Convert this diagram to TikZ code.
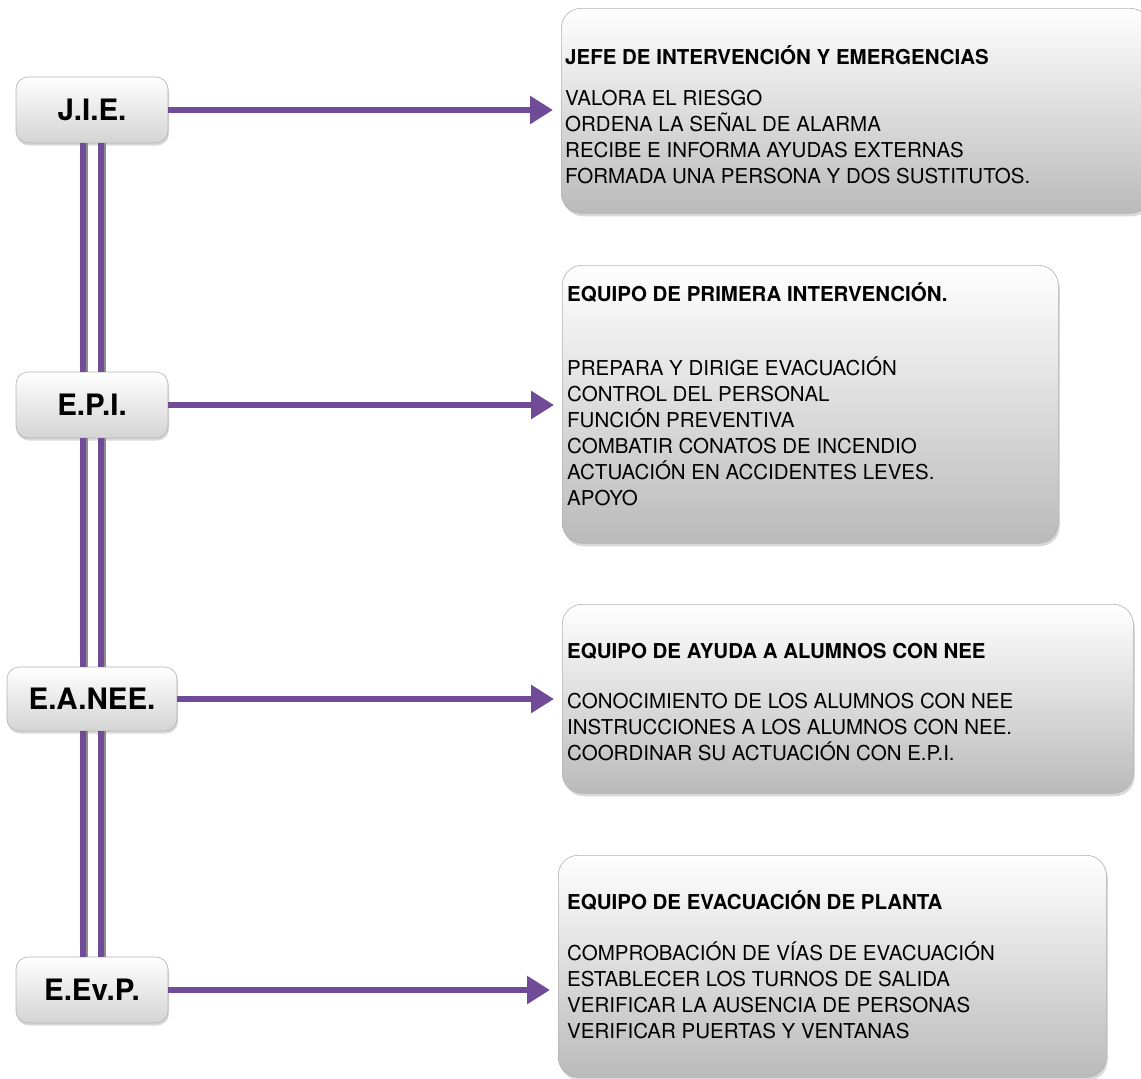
\documentclass[tikz,border=0pt]{standalone}
\usepackage{fontspec}
\setmainfont{TeX Gyre Heros}
\usetikzlibrary{arrows.meta,shadows}
\definecolor{jviolet}{RGB}{112,76,152}
\definecolor{jframe}{RGB}{178,178,178}

\begin{document}
\begin{tikzpicture}[x=1pt, y=-1pt,
  rank/.style={draw=jframe, line width=0.6pt, rounded corners=12pt,
    top color=white, bottom color=black!17, inner sep=0pt,
    drop shadow={shadow xshift=1pt, shadow yshift=-2.5pt, opacity=.3},
    minimum width=152pt, minimum height=66pt,
    font=\fontsize{29.5}{31}\selectfont\bfseries},
  panel/.style={draw=jframe, line width=0.6pt, rounded corners=20pt,
    top color=white, bottom color=black!27, inner sep=0pt, anchor=north west,
    drop shadow={shadow xshift=1.5pt, shadow yshift=-3pt, opacity=.3}},
  heading/.style={anchor=base west, inner sep=0pt,
    font=\fontsize{20.5}{26}\selectfont\bfseries},
  % base of a multi-line node = baseline of its last line
  duties/.style={anchor=base west, inner sep=0pt, align=left,
    font=\fontsize{20.5}{26}\selectfont},
  rail/.style={draw=jviolet, line width=6pt},
  railshade/.style={draw=black!45, line width=6pt},
  link/.style={draw=jviolet, line width=6pt,
    -{Triangle[length=23pt,width=27pt]}, shorten >=8pt}]
  \useasboundingbox (0,0) rectangle (1141,1079);

  % Ranks
  \node[rank] (JIE) at (92,110) {J.I.E.};
  \node[rank] (EPI) at (92,405) {E.P.I.};
  \node[rank, minimum width=170pt, minimum height=64pt] (EANEE) at (92,699) {E.A.NEE.};
  \node[rank] (EEvP) at (92,990) {E.Ev.P.};

  % Panels
  \node[panel, minimum width=589pt, minimum height=205pt] (JIEbox) at (561,8) {};
  \node[panel, minimum width=496pt, minimum height=278pt] (EPIbox) at (562,265) {};
  \node[panel, minimum width=571pt, minimum height=189pt] (EANEEbox) at (562,604) {};
  \node[panel, minimum width=548pt, minimum height=222pt] (EEvPbox) at (558,855) {};

  % Texts
  \node[heading] (JIEhead) at (565,64) {JEFE DE INTERVENCIÓN Y EMERGENCIAS};
  \node[duties] (JIEtext) at (565,183) {VALORA EL RIESGO\\ORDENA LA SEÑAL DE ALARMA\\RECIBE E INFORMA AYUDAS EXTERNAS\\FORMADA UNA PERSONA Y DOS SUSTITUTOS.};
  \node[heading] (EPIhead) at (567,301) {EQUIPO DE PRIMERA INTERVENCIÓN.};
  \node[duties] (EPItext) at (567,505) {PREPARA Y DIRIGE EVACUACIÓN\\CONTROL DEL PERSONAL\\FUNCIÓN PREVENTIVA\\COMBATIR CONATOS DE INCENDIO\\ACTUACIÓN EN ACCIDENTES LEVES.\\APOYO};
  \node[heading] (EANEEhead) at (567,658) {EQUIPO DE AYUDA A ALUMNOS CON NEE};
  \node[duties] (EANEEtext) at (567,760) {CONOCIMIENTO DE LOS ALUMNOS CON NEE\\INSTRUCCIONES A LOS ALUMNOS CON NEE.\\COORDINAR SU ACTUACIÓN CON E.P.I.};
  \node[heading] (EEvPhead) at (567,909) {EQUIPO DE EVACUACIÓN DE PLANTA};
  \node[duties] (EEvPtext) at (567,1038) {COMPROBACIÓN DE VÍAS DE EVACUACIÓN\\ESTABLECER LOS TURNOS DE SALIDA\\VERIFICAR LA AUSENCIA DE PERSONAS\\VERIFICAR PUERTAS Y VENTANAS};

  % Rails
  \foreach \a/\b in {JIE/EPI, EPI/EANEE, EANEE/EEvP}
    \foreach \d in {-9,9} {
      \draw[railshade] ([xshift=\d pt+1.5pt]\a.south) -- ([xshift=\d pt+1.5pt]\b.north);
      \draw[rail] ([xshift=\d pt]\a.south) -- ([xshift=\d pt]\b.north);
    }

  % Arrows
  \foreach \n in {JIE, EPI, EANEE, EEvP}
    \draw[link] (\n.east) -- (\n.east -| \n box.west);
\end{tikzpicture}
\end{document}
